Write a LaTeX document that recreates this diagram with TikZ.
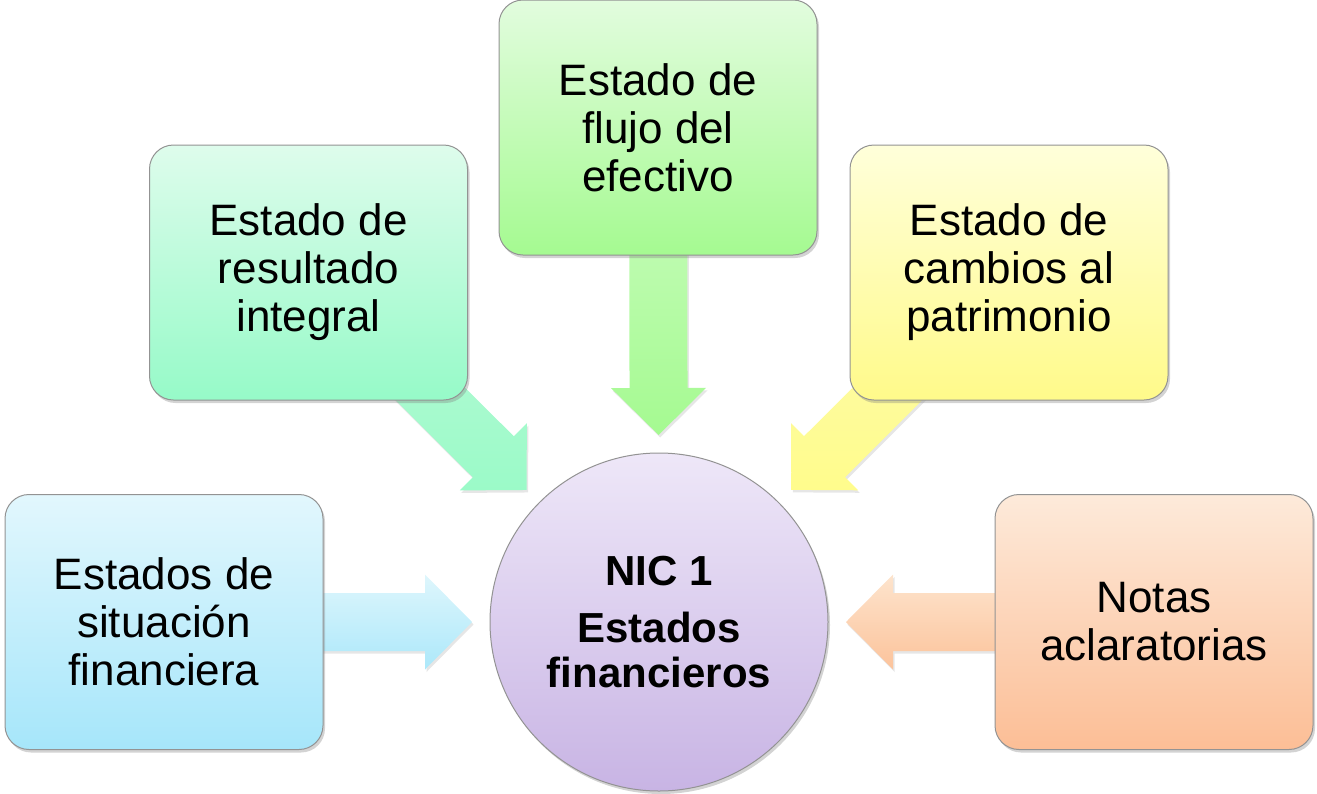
\documentclass[tikz,border=0pt]{standalone}
\usepackage{fontspec}
\setmainfont{Liberation Sans}
\usetikzlibrary{calc}
\usetikzlibrary{shadows}
\usetikzlibrary{backgrounds}

\definecolor{cyanA}{RGB}{226,247,253}
\definecolor{cyanB}{RGB}{166,230,250}
\definecolor{mintA}{RGB}{222,252,236}
\definecolor{mintB}{RGB}{150,250,200}
\definecolor{greenA}{RGB}{226,252,222}
\definecolor{greenB}{RGB}{165,250,145}
\definecolor{yellowA}{RGB}{255,255,218}
\definecolor{yellowB}{RGB}{255,250,138}
\definecolor{peachA}{RGB}{253,234,218}
\definecolor{peachB}{RGB}{252,190,150}
\definecolor{lilacA}{RGB}{238,231,248}
\definecolor{lilacB}{RGB}{200,180,228}
% arrow colours
\definecolor{cyanC}{RGB}{222,246,252}
\definecolor{cyanD}{RGB}{172,232,250}
\definecolor{mintC}{RGB}{188,250,216}
\definecolor{mintD}{RGB}{155,250,200}
\definecolor{greenC}{RGB}{205,252,195}
\definecolor{greenD}{RGB}{165,250,145}
\definecolor{yellowC}{RGB}{252,250,178}
\definecolor{yellowD}{RGB}{255,252,140}
\definecolor{peachC}{RGB}{253,228,205}
\definecolor{peachD}{RGB}{252,195,155}

\begin{document}
\begin{tikzpicture}[x=1pt, y=-1pt,
    caja/.style={rectangle, rounded corners=24pt, draw=gray!85, line width=1pt,
        minimum width=318pt, minimum height=255pt, align=center,
        font=\fontsize{44}{48}\selectfont,
        drop shadow={shadow xshift=2pt, shadow yshift=-3pt, opacity=0.35}},
    flecha/.style={drop shadow={shadow xshift=1.5pt, shadow yshift=-2.5pt, opacity=0.2}}]
    \useasboundingbox (0,0) rectangle (1317,793);

    % Centre
    \node[circle, draw=gray!85, line width=1pt, minimum size=338pt,
        top color=lilacA, bottom color=lilacB, align=center,
        font=\bfseries\fontsize{42}{45}\selectfont,
        drop shadow={shadow xshift=2pt, shadow yshift=-3pt, opacity=0.35}]
        (nic) at (659,622) {NIC 1\\[12pt]Estados\\financieros};

    % Statements
    \node[caja, top color=cyanA, bottom color=cyanB] (sit) at (164,622) {Estados de\\situación\\financiera};
    \node[caja, top color=mintA, bottom color=mintB] (res) at (308.5,272.5) {Estado de\\resultado\\integral};
    \node[caja, top color=greenA, bottom color=greenB] (flu) at (658,127.5) {Estado de\\flujo del\\efectivo};
    \node[caja, top color=yellowA, bottom color=yellowB] (cam) at (1009,272.5) {Estado de\\cambios al\\patrimonio};
    \node[caja, top color=peachA, bottom color=peachB] (not) at (1154,622) {Notas\\aclaratorias};

    % Block arrows
    \begin{scope}[on background layer]
        \foreach \caja/\ca/\cb in {sit/cyanC/cyanD, res/mintC/mintD, flu/greenC/greenD,
                                    cam/yellowC/yellowD, not/peachC/peachD} {
            \coordinate (punta) at ($(nic.center)!187pt!(\caja.center)$);
            \coordinate (base) at ($(punta)!47pt!(\caja.center)$);
            \shade[flecha, top color=\ca, bottom color=\cb]
                ($(\caja.center)!29pt!90:(punta)$) -- ($(base)!29pt!90:(punta)$)
                -- ($(base)!47.5pt!90:(punta)$) -- (punta)
                -- ($(base)!47.5pt!-90:(punta)$) -- ($(base)!29pt!-90:(punta)$)
                -- ($(\caja.center)!29pt!-90:(punta)$) -- cycle;
        }
    \end{scope}
\end{tikzpicture}
\end{document}
